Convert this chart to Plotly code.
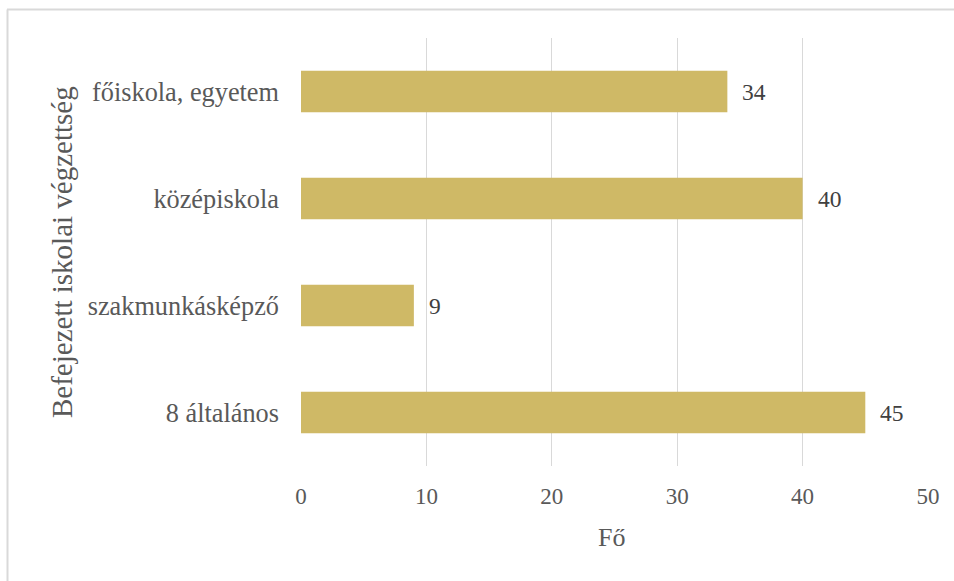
import plotly.graph_objects as go

categories = ["8 általános", "szakmunkásképző", "középiskola", "főiskola, egyetem"]
values = [45, 9, 40, 34]
x_ticks = [0, 10, 20, 30, 40, 50]

FONT = "Liberation Serif"
GREY = "#595959"

fig = go.Figure()
fig.add_trace(go.Bar(
    y=categories, x=values, orientation="h",
    marker=dict(color="#CFB966", line=dict(width=0)),
    hoverinfo="skip",
))

W, H = 954, 581
l, r, t, b = 301, 26, 38, 115
pw, ph = W - l - r, H - t - b

def px(xp):
    return (xp - l) / pw

def py(yp):
    return (H - b - yp) / ph

annotations = [
    dict(x=v, y=c, xref="x", yref="y", text=str(v), showarrow=False,
         xanchor="left", yanchor="middle", xshift=13,
         font=dict(family=FONT, size=23.5, color="#404040"))
    for c, v in zip(categories, values)
]
annotations.append(dict(
    x=px(62), y=py(252), xref="paper", yref="paper",
    text="Befejezett iskolai végzettség", textangle=-90, showarrow=False,
    xanchor="center", yanchor="middle",
    font=dict(family=FONT, size=29, color=GREY)))
annotations.append(dict(
    x=px(611), y=py(537), xref="paper", yref="paper",
    text="Fő", showarrow=False, xanchor="center", yanchor="middle",
    font=dict(family=FONT, size=26, color=GREY)))

border = dict(color="#d9d9d9", width=2)

fig.update_layout(
    width=W, height=H,
    margin=dict(l=l, r=r, t=t, b=b),
    paper_bgcolor="white", plot_bgcolor="white",
    bargap=0.61,
    showlegend=False,
    font=dict(family=FONT, color=GREY),
    xaxis=dict(
        range=[0, 50], tickvals=x_ticks, showgrid=True, gridcolor="#d9d9d9", gridwidth=1.3,
        zeroline=False, showline=False, ticks="", ticklabelstandoff=14,
        tickfont=dict(family=FONT, size=23, color=GREY),
    ),
    yaxis=dict(
        showgrid=False, zeroline=False, showline=False, ticks="", ticklabelstandoff=21,
        tickfont=dict(family=FONT, size=26.3, color=GREY),
    ),
    annotations=annotations,
    shapes=[
        dict(type="line", xref="paper", yref="paper", x0=px(7), x1=px(960), y0=py(9.5), y1=py(9.5),
             line=border, layer="below"),
        dict(type="line", xref="paper", yref="paper", x0=px(7.5), x1=px(7.5), y0=py(9.5), y1=py(590),
             line=border, layer="below"),
    ],
)

fig.write_html("out.html", config={"displayModeBar": False},
               post_script="document.body.style.margin='0';")
